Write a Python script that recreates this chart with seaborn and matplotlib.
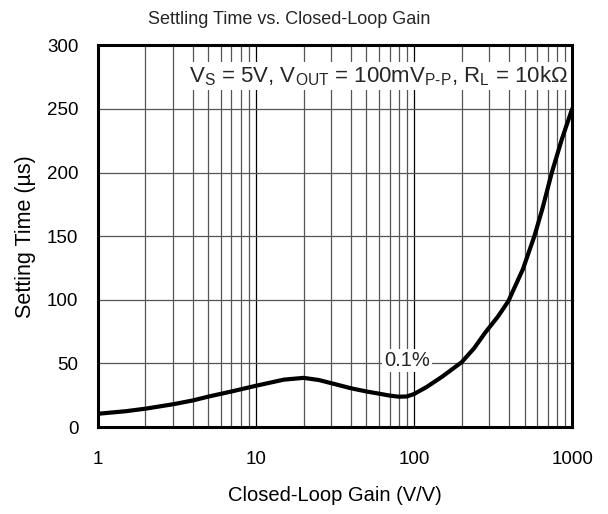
import matplotlib
matplotlib.use("Agg")
import matplotlib.pyplot as plt
import seaborn as sns
import numpy as np
import pandas as pd
from matplotlib.ticker import LogLocator, NullFormatter

gain = [1, 1.5, 2, 3, 4, 5, 7, 10, 15, 20, 25, 30, 40, 50, 60, 70, 80, 90, 100,
        120, 150, 200, 240, 281, 340, 395, 488, 577, 650, 744, 860, 1000]
settle = [10.5, 12.5, 14.5, 18, 21, 24, 28, 32.5, 37.3, 38.7, 37, 34.5, 30.5, 28, 26.3, 24.8, 23.9, 24.1, 26,
          31.5, 39.5, 51, 62, 74, 87, 99, 124, 150, 172, 200, 226, 250]
yticks = [0, 50, 100, 150, 200, 250, 300]
xticks = [1, 10, 100, 1000]
xticklabels = ["1", "10", "100", "1000"]

sns.set_style("white")
plt.rcParams['font.family'] = ['Liberation Sans', 'DejaVu Sans']
plt.rcParams['mathtext.fontset'] = 'custom'
plt.rcParams['mathtext.rm'] = 'Liberation Sans'

df = pd.DataFrame({"gain": gain, "settle": settle})

fig = plt.figure(figsize=(6.08, 5.14), dpi=100)
ax = fig.add_axes([0.161, 0.169, 0.780, 0.743])
ax.set_xscale("log")
sns.lineplot(data=df, x="gain", y="settle", ax=ax, color="black", linewidth=3,
             zorder=5, solid_joinstyle="round", solid_capstyle="round")

ax.set_xlim(1, 1000)
ax.set_ylim(0, 300)
ax.set_yticks(yticks)
ax.set_xticks(xticks)
ax.set_xticklabels(xticklabels)
ax.xaxis.set_minor_locator(LogLocator(base=10, subs=np.arange(2, 10)))
ax.xaxis.set_minor_formatter(NullFormatter())
ax.grid(True, which="major", axis="x", color="black", linewidth=0.9)
ax.grid(True, which="minor", axis="x", color="#555555", linewidth=0.9)
ax.grid(True, which="major", axis="y", color="#555555", linewidth=0.9)
ax.tick_params(axis="both", which="both", length=0, labelsize=13.5, colors="black")
ax.tick_params(axis="x", pad=17)
ax.tick_params(axis="y", pad=14)
for s in ax.spines.values():
    s.set_color("black")
    s.set_linewidth(2.2)
    s.set_zorder(10)

ax.set_xlabel("Closed-Loop Gain (V/V)", fontsize=14.5, labelpad=13, color="black")
ax.set_ylabel("Setting Time (µs)", fontsize=15.5, labelpad=8, color="black")
fig.suptitle("Settling Time vs. Closed-Loop Gain", fontsize=13, x=0.475, y=0.978)

ax.text(0.992, 0.92, r"V$_\mathregular{S}$ = 5V, V$_\mathregular{OUT}$ = 100mV$_\mathregular{P\text{-}P}$, R$_\mathregular{L}$ = 10kΩ",
        transform=ax.transAxes, ha="right", va="center", fontsize=16,
        bbox=dict(facecolor="white", edgecolor="none", pad=1.5), zorder=6)
ax.text(90, 52, "0.1%", ha="center", va="center", fontsize=14.5,
        bbox=dict(facecolor="white", edgecolor="none", pad=1.5), zorder=6)

fig.savefig("out.png", dpi=100)
